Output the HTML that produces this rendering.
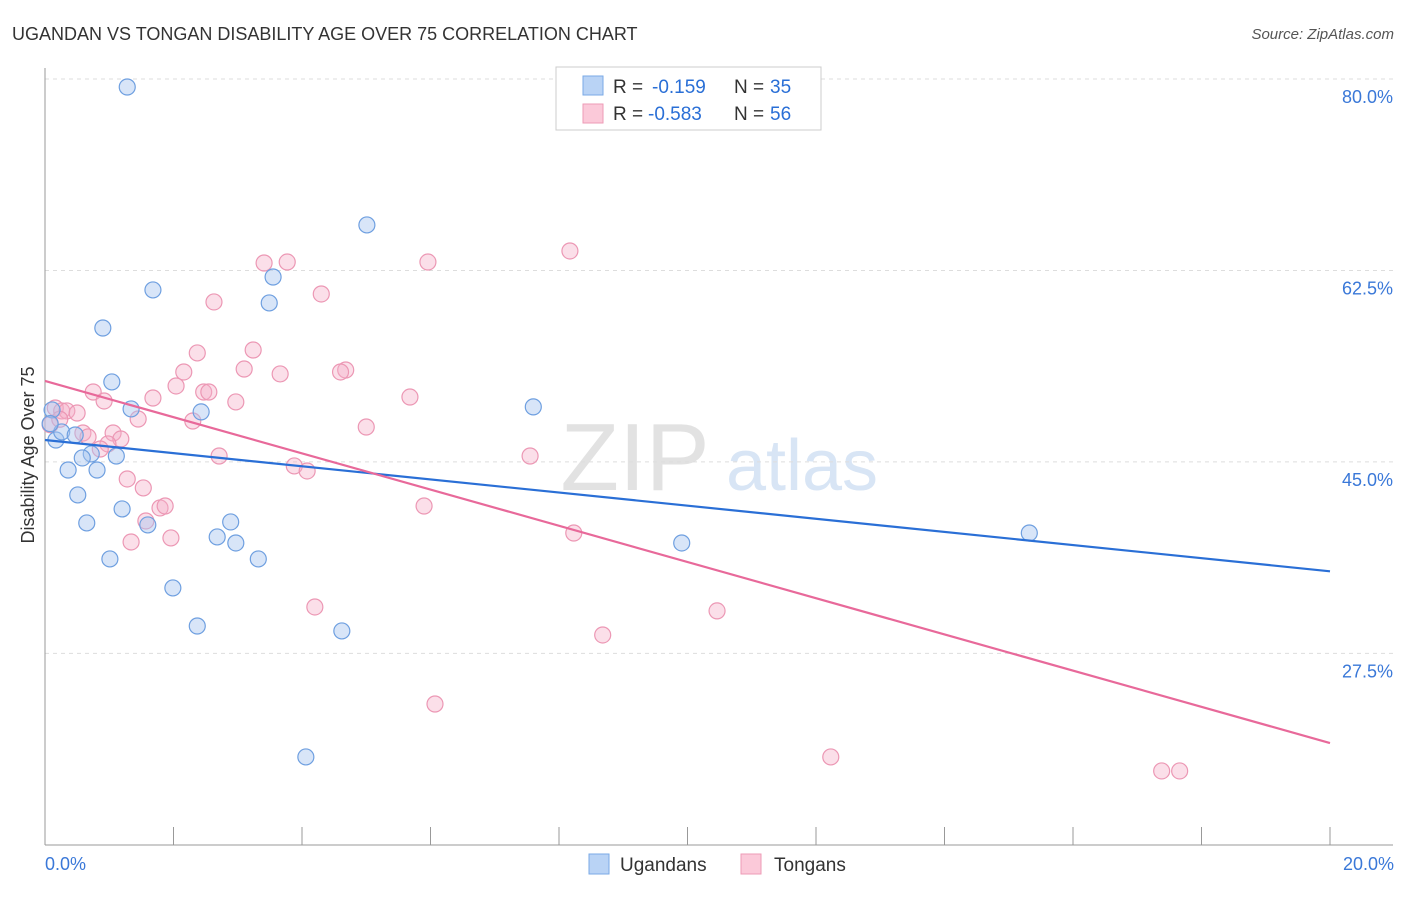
<!DOCTYPE html>
<html><head><meta charset="utf-8"><style>
body{margin:0;background:#fff;font-family:"Liberation Sans",sans-serif;}
svg text{font-family:"Liberation Sans",sans-serif;}
</style></head><body>
<svg id="chart" width="1406" height="892" viewBox="0 0 1406 892" xmlns="http://www.w3.org/2000/svg">
<text x="12" y="40" font-size="18" fill="#333">UGANDAN VS TONGAN DISABILITY AGE OVER 75 CORRELATION CHART</text>
<text x="1394" y="39" font-size="15" fill="#555" text-anchor="end" font-style="italic">Source: ZipAtlas.com</text>
<g>
<text x="635" y="490" font-size="96" fill="#e2e2e2" font-family="Liberation Serif" text-anchor="middle">ZIP</text>
<text x="802" y="490" font-size="72" fill="#d8e5f5" text-anchor="middle">atlas</text>
</g>
<g id="grid"></g>
<g id="axes"></g>
<g id="marks"></g>
<g>
<rect x="556" y="67" width="265" height="63" fill="#fff" stroke="#ccc"/>
<rect x="583" y="76" width="20" height="19" fill="#b9d3f5" stroke="#7aa9e6"/>
<rect x="583" y="104" width="20" height="19" fill="#fbc9d9" stroke="#ee9bb6"/>
<g font-size="19">
<text x="613" y="93" fill="#333">R =</text><text x="652" y="93" fill="#2a6fd6">-0.159</text><text x="734" y="93" fill="#333">N =</text><text x="770" y="93" fill="#2a6fd6">35</text>
</g>
<g font-size="19">
<text x="613" y="120" fill="#333">R =</text><text x="648" y="120" fill="#2a6fd6">-0.583</text><text x="734" y="120" fill="#333">N =</text><text x="770" y="120" fill="#2a6fd6">56</text>
</g>
</g>
<g>
<rect x="589" y="854" width="20" height="20" fill="#b9d3f5" stroke="#7aa9e6"/>
<text x="620" y="871" font-size="19" fill="#333">Ugandans</text>
<rect x="741" y="854" width="20" height="20" fill="#fbc9d9" stroke="#ee9bb6"/>
<text x="774" y="871" font-size="19" fill="#333">Tongans</text>
</g>
<text x="34" y="455" font-size="18" fill="#333" text-anchor="middle" transform="rotate(-90 34 455)">Disability Age Over 75</text>
</svg>
<script>
const yTicks=[80,62.5,45,27.5];
const yTickLabels=["80.0%","62.5%","45.0%","27.5%"];
const xEnds=[0,20];
const xEndLabels=["0.0%","20.0%"];
const blueX=[1.28,5.01,1.68,3.55,3.49,0.90,1.04,1.34,2.43,7.60,0.11,0.17,0.26,0.47,0.72,0.58,1.11,0.36,0.81,0.51,1.20,0.65,1.60,2.89,2.68,2.97,1.01,3.32,9.91,15.32,1.99,2.37,4.62,4.06,0.08];
const blueY=[79.27,66.66,60.72,61.90,59.53,57.24,52.31,49.84,49.57,50.03,49.75,47.00,47.74,47.46,45.73,45.36,45.54,44.26,44.26,41.98,40.70,39.42,39.24,39.51,38.14,37.59,36.13,36.13,37.59,38.50,33.48,30.00,29.55,18.03,48.5];
const pinkX=[8.17,3.41,3.77,5.96,4.30,2.63,2.37,3.24,3.10,3.66,2.16,2.04,2.47,2.55,4.68,4.60,5.68,0.75,0.92,1.68,2.97,0.16,0.26,0.34,0.50,1.45,2.30,5.00,0.59,0.67,1.06,1.18,0.98,0.86,2.71,7.55,3.88,4.08,1.28,1.53,5.90,1.79,1.87,1.57,8.23,1.96,1.34,4.20,10.46,8.68,6.07,12.23,17.38,17.66,0.08,0.23];
const pinkY=[64.28,63.18,63.27,63.27,60.35,59.62,54.96,55.23,53.49,53.04,53.22,51.94,51.39,51.39,53.40,53.22,50.93,51.39,50.57,50.84,50.48,49.93,49.66,49.66,49.47,48.92,48.74,48.19,47.64,47.28,47.64,47.09,46.64,46.18,45.54,45.54,44.63,44.17,43.44,42.62,40.97,40.79,40.97,39.60,38.50,38.05,37.68,31.74,31.38,29.18,22.87,18.03,16.75,16.75,48.4,48.9];
const blueTrend=[47.0,35.0];
const pinkTrend=[52.4,19.3];
const NS="http://www.w3.org/2000/svg";
const X0=45,X1=1330,Y80=79,PX=10.94;
function sx(v){return X0+(v-xEnds[0])/(xEnds[1]-xEnds[0])*(X1-X0);}
function sy(v){return Y80+(80-v)*PX;}
function mk(tag,attrs,parent){const e=document.createElementNS(NS,tag);for(const k in attrs)e.setAttribute(k,attrs[k]);parent.appendChild(e);return e;}
const grid=document.getElementById('grid'),axes=document.getElementById('axes'),marks=document.getElementById('marks');
yTicks.forEach((t,i)=>{
 const l=mk('line',{x1:X0,x2:1393,y1:sy(t),y2:sy(t),stroke:'#ddd','stroke-dasharray':'4,4'},grid);
 
 
 const tx=mk('text',{x:1393,y:sy(t)+24,'font-size':18,fill:'#3a78d8','text-anchor':'end'},axes);
 tx.textContent=yTickLabels[i];
 
 
});
const ax=mk('line',{x1:X0,x2:1393,y1:845,y2:845,stroke:'#999'},axes);


const ay=mk('line',{x1:X0,x2:X0,y1:68,y2:845,stroke:'#999'},axes);


for(let i=0;i<=10;i++){
 const v=xEnds[0]+i*(xEnds[1]-xEnds[0])/10;
 const t=mk('line',{x1:sx(v),x2:sx(v),y1:827,y2:845,stroke:'#999'},axes);
 
 
}
xEnds.forEach((v,i)=>{
 const t=mk('text',{x:sx(v)+(i==0?0:64),y:870,'font-size':18,fill:'#3a78d8','text-anchor':i==0?'start':'end'},axes);
 t.textContent=xEndLabels[i];
 
 
});
pinkX.forEach((x,i)=>{
 const c=mk('circle',{cx:sx(x),cy:sy(pinkY[i]),r:8,fill:'rgba(246,176,200,0.4)',stroke:'#ec97b4','stroke-width':1.2},marks);
 
 
});
blueX.forEach((x,i)=>{
 const c=mk('circle',{cx:sx(x),cy:sy(blueY[i]),r:8,fill:'rgba(168,198,240,0.45)',stroke:'#6e9fe0','stroke-width':1.2},marks);
 
 
});
const tb=mk('line',{x1:sx(xEnds[0]),x2:sx(xEnds[1]),y1:sy(blueTrend[0]),y2:sy(blueTrend[1]),stroke:'#2a6fd6','stroke-width':2.2},marks);


const tp=mk('line',{x1:sx(xEnds[0]),x2:sx(xEnds[1]),y1:sy(pinkTrend[0]),y2:sy(pinkTrend[1]),stroke:'#e8699a','stroke-width':2.2},marks);


</script>
</body></html>
